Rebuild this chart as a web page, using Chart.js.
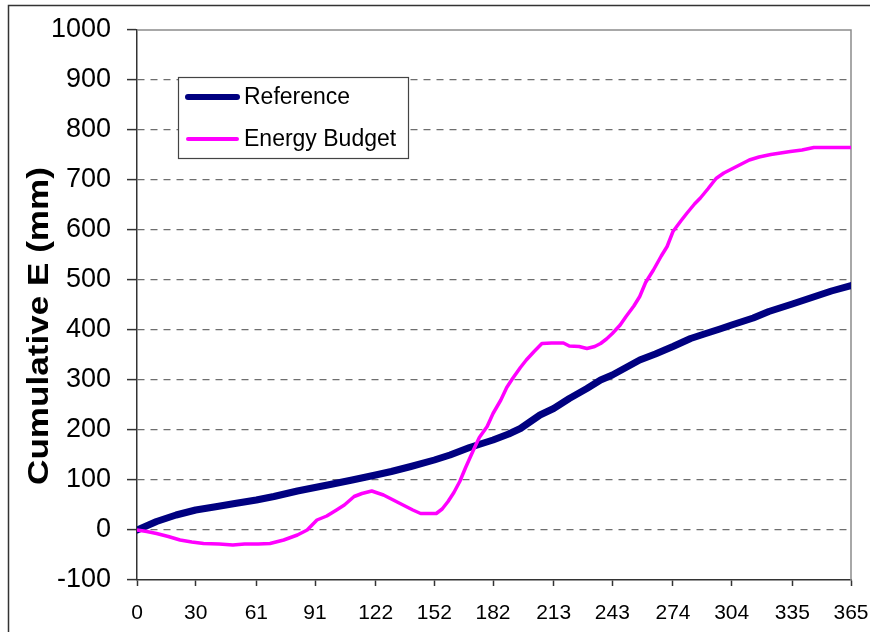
<!DOCTYPE html>
<html>
<head>
<meta charset="utf-8">
<script src="https://cdn.jsdelivr.net/npm/chart.js@4/dist/chart.umd.min.js"></script>
<style>
  html, body { margin: 0; padding: 0; background: #fff; }
  #wrap { width: 870px; height: 632px; }
</style>
</head>
<body>
<div id="wrap"><canvas id="cumE" width="870" height="632"></canvas></div>
<script>
// day-of-year tick positions (month starts)
const xTicks = [0, 30, 61, 91, 122, 152, 182, 213, 243, 274, 304, 335, 365];
const yTitle = 'Cumulative E (mm)';

// Reference series
const refDays = [0, 10, 20, 30, 41, 50, 61, 70, 82, 91, 100, 110, 122, 130, 140, 152, 160, 170, 182, 190, 196, 206, 213, 221, 230, 237, 243, 250, 257, 265, 274, 283, 290, 298, 304, 315, 323, 335, 345, 355, 365];
const refValues = [0, 17, 30, 40, 47, 53, 60, 67, 78, 85, 92, 100, 110, 117, 127, 140, 150, 165, 180, 192, 203, 230, 243, 263, 283, 300, 310, 325, 340, 352, 367, 383, 392, 402, 410, 424, 437, 452, 465, 478, 489];

// Energy Budget series
const ebDays = [0, 5, 10, 16, 22, 28, 34, 42, 49, 55, 62, 68, 75, 82, 87, 92, 97, 102, 106, 111, 115, 120, 126, 131, 136, 141, 145, 153, 156, 159, 162, 165, 168, 172, 175, 179, 182, 186, 189, 192, 196, 199, 203, 207, 212, 218, 221, 226, 230, 234, 237, 240, 243, 247, 250, 254, 257, 260, 264, 268, 271, 274, 278, 281, 285, 288, 292, 296, 300, 304, 309, 313, 318, 324, 329, 334, 340, 346, 355, 365];
const ebValues = [0, -3, -7, -13, -20, -24, -27, -28, -30, -28, -28, -27, -20, -10, 0, 20, 28, 40, 50, 67, 73, 78, 70, 60, 50, 40, 33, 33, 42, 57, 75, 97, 125, 160, 185, 207, 233, 260, 285, 303, 325, 340, 357, 373, 374, 374, 368, 367, 363, 367, 373, 382, 393, 410, 427, 448, 467, 495, 520, 548, 567, 597, 618, 633, 652, 664, 683, 703, 714, 722, 732, 740, 746, 751, 754, 757, 760, 765, 765, 765];

const FONT = 'Arial, "Liberation Sans", sans-serif';

const toPoints = (xs, ys) => xs.map((d, i) => ({ x: d, y: ys[i] }));

// outer frame, white background, plot border, y title
const framePlugin = {
  id: 'frame',
  beforeDraw(chart) {
    const c = chart.ctx;
    c.save();
    c.fillStyle = '#fff';
    c.fillRect(0, 0, chart.width, chart.height);
    c.strokeStyle = '#333';
    c.lineWidth = 1.5;
    c.strokeRect(8.5, 5.5, 1000, 1000);
    // y axis title, slightly stretched like the original
    c.translate(39, 326);
    c.rotate(-Math.PI / 2);
    c.scale(1.17, 1);
    c.font = 'bold 30px ' + FONT;
    c.fillStyle = '#000';
    c.textAlign = 'center';
    c.textBaseline = 'middle';
    c.fillText(yTitle, 0, 1);
    c.restore();
  },
  beforeDatasetsDraw(chart) {
    const a = chart.chartArea, c = chart.ctx;
    c.save();
    c.strokeStyle = '#8c8c8c';
    c.lineWidth = 1.5;
    c.beginPath();
    c.moveTo(a.left, a.top);
    c.lineTo(a.right, a.top);
    c.lineTo(a.right, a.bottom);
    c.stroke();
    c.restore();
  }
};

// boxed legend sitting inside the plot
const boxLegend = {
  id: 'boxLegend',
  afterDatasetsDraw(chart) {
    const c = chart.ctx;
    const bx = 178, by = 77, bw = 230, bh = 81;
    c.save();
    c.fillStyle = '#fff';
    c.fillRect(bx, by, bw, bh);
    c.strokeStyle = '#444';
    c.lineWidth = 1.2;
    c.strokeRect(bx + 0.5, by + 0.5, bw, bh);
    c.font = '23px ' + FONT;
    c.fillStyle = '#000';
    c.textBaseline = 'middle';
    chart.data.datasets.forEach((ds, i) => {
      const y = by + 20 + i * 42;
      c.strokeStyle = ds.borderColor;
      c.lineWidth = i === 0 ? 6 : 4;
      c.lineCap = 'round';
      c.beginPath();
      c.moveTo(188, y);
      c.lineTo(237, y);
      c.stroke();
      c.fillText(ds.label, 244, y + 1);
    });
    c.restore();
  }
};

new Chart(document.getElementById('cumE'), {
  type: 'line',
  data: {
    datasets: [
      {
        label: 'Reference',
        data: toPoints(refDays, refValues),
        borderColor: '#000080',
        borderWidth: 7,
        borderCapStyle: 'round',
        borderJoinStyle: 'round',
        pointRadius: 0,
        tension: 0,
        order: 2
      },
      {
        label: 'Energy Budget',
        data: toPoints(ebDays, ebValues),
        borderColor: '#ff00ff',
        borderWidth: 3.5,
        borderJoinStyle: 'round',
        pointRadius: 0,
        tension: 0,
        order: 1
      }
    ]
  },
  options: {
    responsive: false,
    animation: false,
    layout: { padding: { top: 30, right: 19, left: 0, bottom: 0 } },
    plugins: { legend: { display: false }, tooltip: { enabled: false } },
    scales: {
      x: {
        type: 'linear',
        min: 0,
        max: 365,
        afterBuildTicks: s => { s.ticks = xTicks.map(v => ({ value: v })); },
        afterFit: s => { s.height = 52; s.paddingLeft = 0; s.paddingRight = 0; },
        grid: { drawOnChartArea: false, tickLength: 6, tickColor: '#333', tickWidth: 1.5 },
        border: { color: '#333', width: 1.5 },
        ticks: { font: { size: 21, family: FONT }, color: '#000', padding: 15, maxRotation: 0, autoSkip: false }
      },
      y: {
        min: -100,
        max: 1000,
        afterFit: s => { s.width = 137; s.paddingTop = 0; s.paddingBottom = 0; },
        ticks: { stepSize: 100, font: { size: 27, family: FONT }, color: '#000', padding: 16, callback: v => String(v) },
        grid: {
          color: c => (c.tick.value === 1000 || c.tick.value === -100) ? 'rgba(0,0,0,0)' : '#6e6e6e',
          lineWidth: 1.2,
          tickColor: '#333',
          tickLength: 10,
          tickWidth: 1.5,
          tickBorderDash: []
        },
        border: { color: '#333', width: 1.5, dash: [7, 6] },
        title: { display: false }
      }
    }
  },
  plugins: [framePlugin, boxLegend]
});
</script>
</body>
</html>
